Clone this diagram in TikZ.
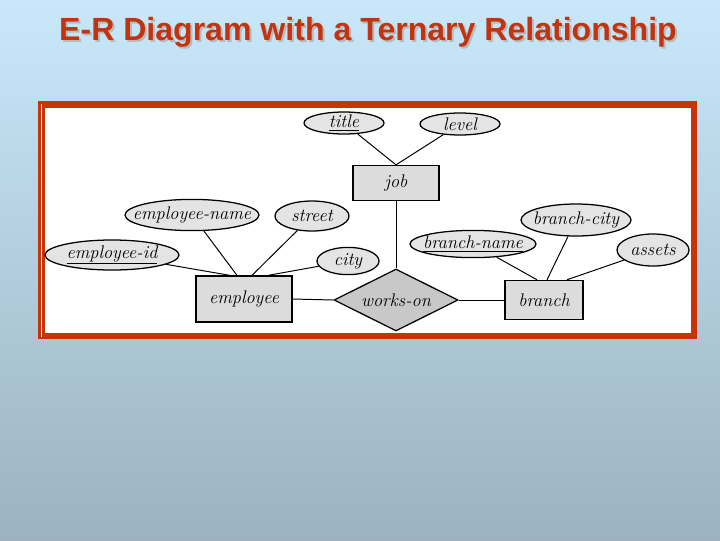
\documentclass[tikz,border=0pt]{standalone}
\usepackage{fontspec}
\newfontfamily\titlefont{Liberation Sans}
\usetikzlibrary{shapes.geometric}

\definecolor{slidetop}{RGB}{200,232,250}
\definecolor{slidebot}{RGB}{156,178,192}
\definecolor{framered}{RGB}{200,52,10}
\definecolor{titlered}{RGB}{192,52,18}
\definecolor{attrgray}{RGB}{228,228,228}
\definecolor{entgray}{RGB}{220,220,220}
\definecolor{relgray}{RGB}{200,200,200}

\begin{document}
\begin{tikzpicture}[x=0.025cm, y=-0.025cm,
  attr/.style={ellipse, draw, line width=0.9pt, fill=attrgray,
               inner xsep=-0.35cm, inner ysep=-0.2cm,
               font=\fontsize{13}{15}\selectfont\itshape},
  ent/.style={rectangle, draw, line width=0.9pt, fill=entgray, inner sep=0pt,
              font=\fontsize{13}{15}\selectfont\itshape},
  rel/.style={diamond, draw, line width=0.9pt, fill=relgray, aspect=2,
              inner xsep=-0.5cm, inner ysep=-0.3cm,
              font=\fontsize{13}{15}\selectfont\itshape},
  link/.style={line width=0.7pt},
  heading/.style={font=\titlefont\bfseries\fontsize{22.8}{27}\selectfont}
]

% ---- slide background ----
\useasboundingbox (0,0) rectangle (720,540);
\shade[top color=slidetop, bottom color=slidebot] (0,0) rectangle (720,540);

% ---- title ----
\node[heading, text=gray!55] (titleshadow) at (370,34) {E-R Diagram with a Ternary Relationship};
\node[heading, text=titlered] (slidetitle) at (368,32) {E-R Diagram with a Ternary Relationship};

% ---- frame ----
\fill[framered] (38,101) rectangle (697,339);
\fill[white] (45,108) rectangle (691,333);
\draw[white, line width=0.5pt] (41,104) -- (41,337);

% ---- job and its attributes ----
\node[attr, minimum width=2cm, minimum height=0.55cm]   (title)  at (344,123) {\underline{title}};
\node[attr, minimum width=2cm, minimum height=0.55cm]   (level)  at (460,124) {level};
\node[ent, minimum width=2.15cm, minimum height=0.875cm] (job)   at (396,183) {job};

% ---- employee and its attributes ----
\node[attr, minimum width=3.35cm, minimum height=0.78cm] (ename)  at (192,215) {employee-name};
\node[attr, minimum width=1.85cm, minimum height=0.75cm] (street) at (312,216) {street};
\node[attr, minimum width=3.35cm, minimum height=0.75cm] (eid)    at (112,255) {\underline{employee-id}};
\node[attr, minimum width=1.55cm, minimum height=0.68cm] (city)   at (348,261) {city};
\node[ent, minimum width=2.4cm, minimum height=1.15cm]   (employee) at (244,299) {employee};

% ---- relationship ----
\node[rel, minimum width=3.1cm, minimum height=1.55cm]   (works)  at (396,300) {works-on};

% ---- branch and its attributes ----
\node[attr, minimum width=3.15cm, minimum height=0.68cm] (bname)  at (473,244) {\underline{branch-name}};
\node[attr, minimum width=2.75cm, minimum height=0.8cm]  (bcity)  at (576,220) {branch-city};
\node[attr, minimum width=1.8cm, minimum height=0.8cm]   (assets) at (653,250) {assets};
\node[ent, minimum width=1.95cm, minimum height=0.98cm]  (branch) at (544,300) {branch};

% ---- connectors ----
\draw[link] (title) -- (job.north);
\draw[link] (level) -- (job.north);
\draw[link] (job.south) -- (works.north);
\draw[link] (employee.east) -- (works.west);
\draw[link] (works.east) -- (branch.west);

\draw[link] (eid)    -- ([shift={(-14,0)}]employee.north);
\draw[link] (ename)  -- ([shift={(-7,0)}]employee.north);
\draw[link] (street) -- ([shift={(8,0)}]employee.north);
\draw[link] (city)   -- ([shift={(24,0)}]employee.north);

\draw[link] (bname)  -- ([shift={(-7,0)}]branch.north);
\draw[link] (bcity)  -- ([shift={(3,0)}]branch.north);
\draw[link] (assets) -- ([shift={(23,0)}]branch.north);

\end{tikzpicture}
\end{document}
